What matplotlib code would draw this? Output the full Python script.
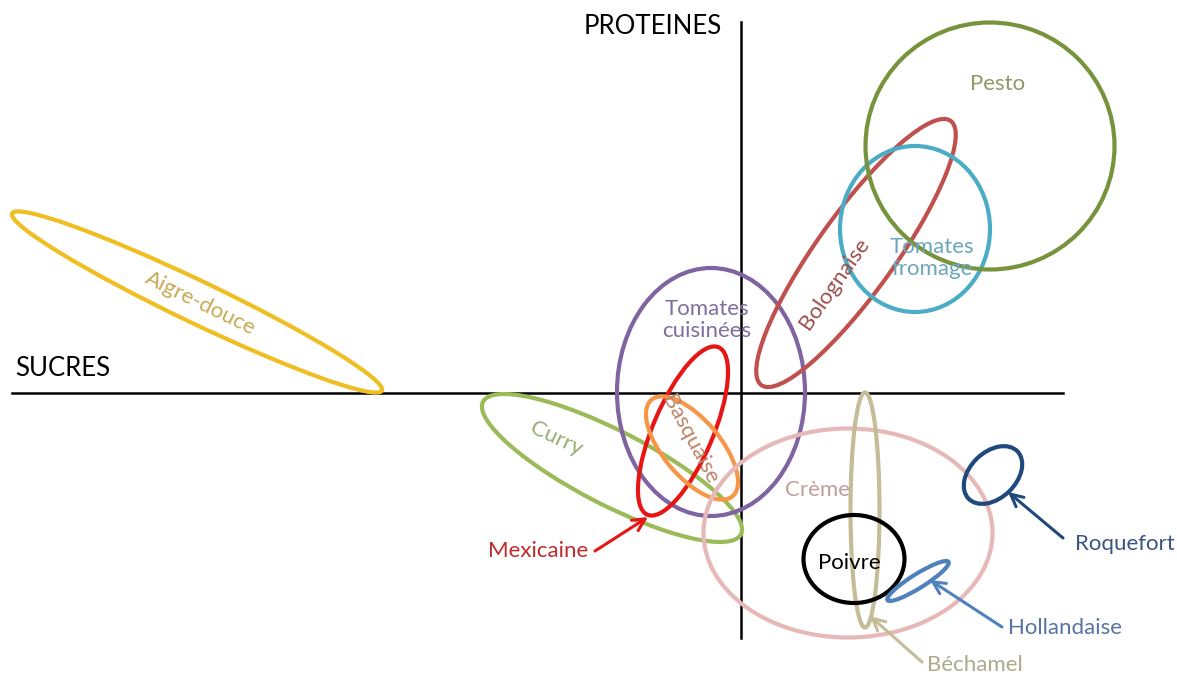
import matplotlib.pyplot as plt
from matplotlib.patches import Ellipse

plt.rcParams['font.family'] = ['Lato', 'DejaVu Sans']

# sauces: ellipse centre, size (pixels of the original diagram), tilt in degrees (screen, ccw)
sauces = ['Aigre-douce', 'Curry', 'Tomates cuisinées', 'Mexicaine', 'Basquaise',
          'Bolognaise', 'Tomates fromage', 'Pesto', 'Crème', 'Béchamel',
          'Poivre', 'Hollandaise', 'Roquefort']
cx = [197, 612, 711, 683, 692, 856, 915, 990, 848, 865, 854, 918, 993]
cy = [302, 468, 392, 431, 448, 253, 229, 146, 533, 510, 559, 581, 475]
widths = [410, 290, 188, 182, 126, 325, 150, 249, 289, 29, 101, 72, 68]
heights = [42, 74, 248, 60, 57, 78, 166, 247, 209, 235, 88, 14, 46]
tilts = [-25.6, -27.2, 0, 67, -50, 54.4, 0, 0, 0, 0, 0, 32, 44]
edge_colors = ['#EFBE22', '#9BBB59', '#8064A2', '#E81515', '#F79646',
               '#C0504D', '#4BACC6', '#77933C', '#E6B9B8', '#C4BD97',
               '#000000', '#4F81BD', '#1F497D']

# labels
label_text = ['Aigre-douce', 'Curry', 'Tomates\ncuisinées', 'Mexicaine', 'Basquaise',
              'Bolognaise', 'Tomates\nfromage', 'Pesto', 'Crème', 'Béchamel',
              'Poivre', 'Hollandaise', 'Roquefort']
label_x = [200, 556, 707, 538, 690, 834, 932, 998, 817, 975, 849, 1065, 1125]
label_y = [303, 439, 320, 551, 440, 284, 258, 84, 490, 665, 563, 628, 544]
label_rot = [-26, -25, 0, 0, -62, 55, 0, 0, 0, 0, 0, 0, 0]
label_colors = ['#C8A955', '#96AE74', '#7F6E9E', '#C02A2A', '#BC8468',
                '#9C4E4C', '#6AA7BA', '#8D9A66', '#C09F9E', '#ADA98A',
                '#000000', '#5873A6', '#3A5583']

# arrows for labels placed outside their ellipse: (from label, to ellipse)
arrow_names = ['Mexicaine', 'Béchamel', 'Hollandaise', 'Roquefort']
arrow_start = [(595, 551), (922, 662), (1002, 627), (1063, 538)]
arrow_end = [(648, 517), (870, 616), (930, 580), (1008, 492)]

fig = plt.figure(figsize=(11.77, 6.77), dpi=100)
ax = fig.add_axes([0, 0, 1, 1])
ax.set_xlim(0, 1177)
ax.set_ylim(677, 0)
ax.axis('off')

# axes of the map
ax.plot([12, 1063], [393, 393], color='black', lw=1.8, zorder=1)
ax.plot([741, 741], [22, 638], color='black', lw=1.8, zorder=1)
ax.text(653, 27, 'PROTEINES', fontsize=18.5, ha='center', va='center')
ax.text(15, 368, 'SUCRES', fontsize=18.5, ha='left', va='center')

for i in range(len(sauces)):
    e = Ellipse((cx[i], cy[i]), widths[i], heights[i], angle=-tilts[i],
                fill=False, edgecolor=edge_colors[i], lw=3, zorder=2)
    ax.add_patch(e)
    ax.text(label_x[i], label_y[i], label_text[i], color=label_colors[i],
            fontsize=16, ha='center', va='center', rotation=label_rot[i],
            rotation_mode='anchor', linespacing=1.1, zorder=3)

for name, p0, p1 in zip(arrow_names, arrow_start, arrow_end):
    c = edge_colors[sauces.index(name)]
    ax.annotate('', xy=p1, xytext=p0,
                arrowprops=dict(arrowstyle='->', color=c, lw=2.2,
                                mutation_scale=22, shrinkA=0, shrinkB=0))

plt.savefig('out.png', dpi=100)
